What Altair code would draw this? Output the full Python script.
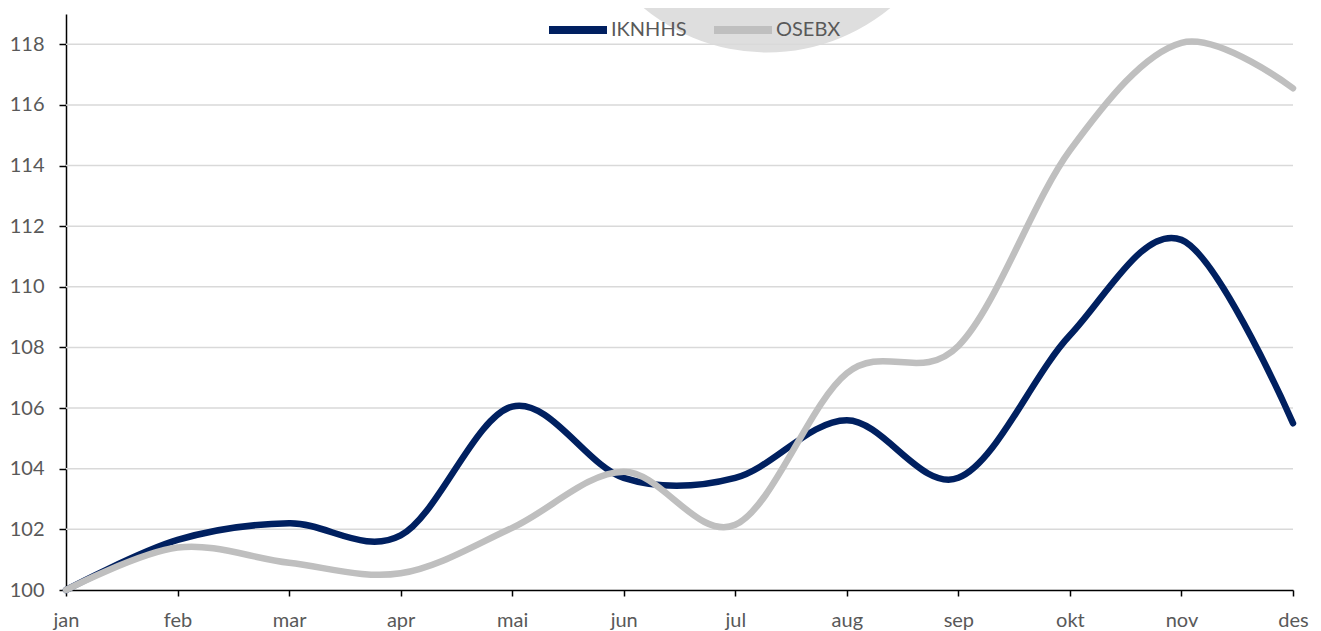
import altair as alt
import pandas as pd

months = ["jan", "feb", "mar", "apr", "mai", "jun", "jul", "aug", "sep", "okt", "nov", "des"]
iknhhs = [100.0, 101.65, 102.2, 101.8, 106.05, 103.7, 103.7, 105.6, 103.7, 108.4, 111.55, 105.5]
osebx = [100.0, 101.4, 100.9, 100.55, 102.05, 103.9, 102.15, 107.15, 108.05, 114.5, 118.05, 116.55]
series_names = ["IKNHHS", "OSEBX"]
series_colors = ["#002060", "#bfbfbf"]
y_ticks = [100, 102, 104, 106, 108, 110, 112, 114, 116, 118]

W, H = 1227, 576
FONT = "Lato"

rows = []
for m, a, b in zip(months, iknhhs, osebx):
    rows.append({"month": m, "series": "IKNHHS", "value": a})
    rows.append({"month": m, "series": "OSEBX", "value": b})
df = pd.DataFrame(rows)
grid_df = pd.DataFrame({"value": y_ticks[1:]})

yscale = alt.Scale(domain=[100, 119], nice=False, zero=False)
xscale = alt.Scale(domain=months, padding=0)
yaxis = alt.Axis(
    values=y_ticks, labelFont=FONT, labelFontSize=20, labelColor="#595959",
    tickColor="#000000", tickSize=7, tickWidth=1.5, domainColor="#000000",
    domainWidth=1.5, labelPadding=15, grid=False,
)

circle = alt.Chart(pd.DataFrame({"k": [0]})).mark_point(
    shape="circle", filled=True, color="#dedede", opacity=1, size=149700
).encode(x=alt.value(701), y=alt.value(-155))

grid = alt.Chart(grid_df).mark_rule(color="#d9d9d9", strokeWidth=1.5).encode(
    y=alt.Y("value:Q", scale=yscale, title=None, axis=yaxis),
    x=alt.value(0),
    x2=alt.value(W),
)

lines = alt.Chart(df).mark_line(
    interpolate="cardinal", strokeWidth=6.5, strokeCap="round"
).encode(
    x=alt.X(
        "month:N", sort=months, scale=xscale, title=None,
        axis=alt.Axis(
            labelAngle=0, labelFont=FONT, labelFontSize=20, labelColor="#595959",
            tickColor="#000000", tickSize=6, tickWidth=1.5, domainColor="#000000",
            domainWidth=1.5, labelPadding=14, grid=False,
        ),
    ),
    y=alt.Y("value:Q", scale=yscale, title=None, axis=yaxis),
    color=alt.Color(
        "series:N",
        scale=alt.Scale(domain=series_names, range=series_colors),
        legend=alt.Legend(
            title=None, orient="none", legendX=479, legendY=-17, direction="horizontal",
            symbolType="stroke", symbolSize=3364, symbolStrokeWidth=8,
            labelFont=FONT, labelFontSize=20, labelColor="#595959",
            labelOffset=0, columnPadding=11,
        ),
    ),
    detail="series:N",
)

chart = alt.layer(circle, grid, lines).properties(
    width=W, height=H,
    background="white",
    autosize=alt.AutoSizeParams(type="none"),
    padding={"left": 58, "top": 6, "right": 18, "bottom": 40},
).configure_view(stroke="transparent", strokeWidth=0)

chart.save("out.html", embed_options={"renderer": "svg", "actions": False})
